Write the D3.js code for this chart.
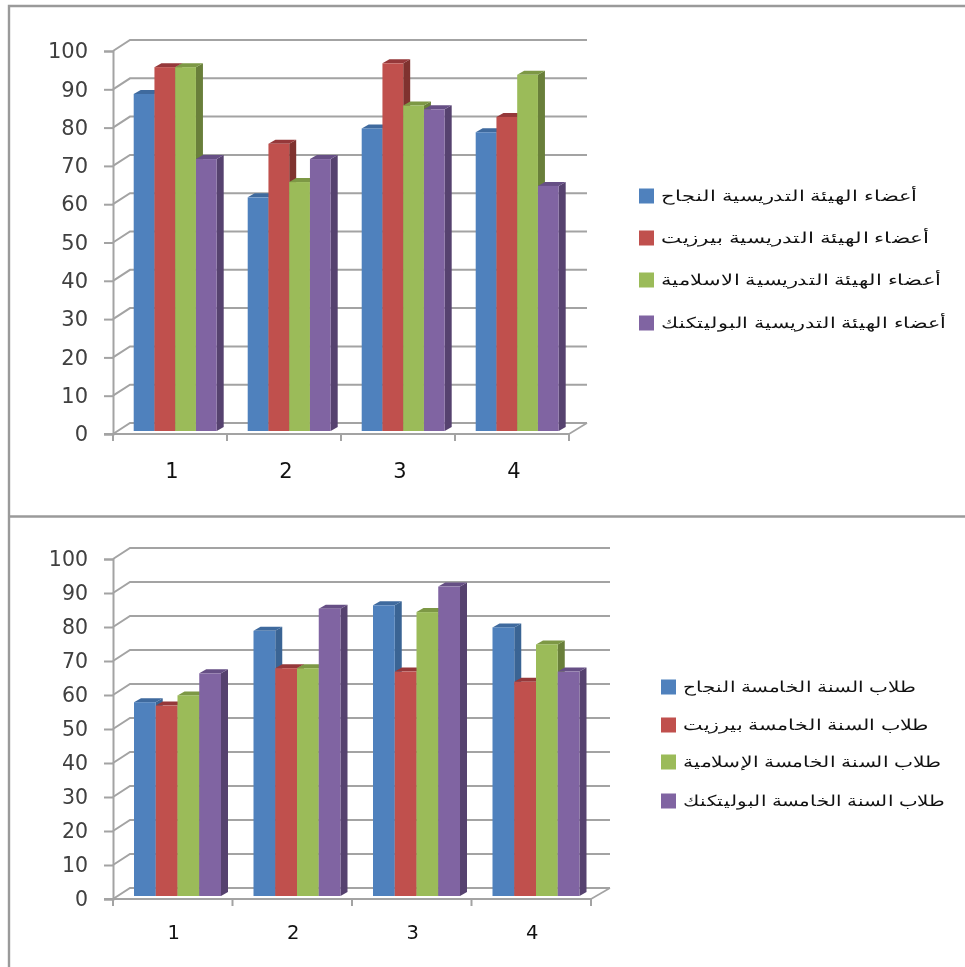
<!DOCTYPE html>
<html lang="ar"><head><meta charset="utf-8">
<script src="https://cdnjs.cloudflare.com/ajax/libs/d3/7.8.5/d3.min.js"></script>
<style>html,body{margin:0;padding:0;background:#fff;overflow:hidden}svg{display:block;filter:blur(0.7px)}</style>
</head><body><svg id="c" width="965" height="967"></svg>
<script>
const categories = ["1","2","3","4"];
const yTicks = [0,10,20,30,40,50,60,70,80,90,100];
const colors = ["#4f81bd","#c0504d","#9bbb59","#8064a2"];
const sideColors = ["#3a6494","#7f322f","#697f3a","#56426f"];
const topColors = ["#3f6a9e","#95383a","#7d9845","#664f85"];

const staffNames = ["أعضاء الهيئة التدريسية النجاح","أعضاء الهيئة التدريسية بيرزيت","أعضاء الهيئة التدريسية الاسلامية","أعضاء الهيئة التدريسية البوليتكنك"];
const staffNajah = [88,61,79,78];
const staffBirzeit = [95,75,96,82];
const staffIslamic = [95,65,85,93];
const staffPoly = [71,71,84,64];

const studentNames = ["طلاب السنة الخامسة النجاح","طلاب السنة الخامسة بيرزيت","طلاب السنة الخامسة الإسلامية","طلاب السنة الخامسة البوليتكنك"];
const studentNajah = [57,78,85.5,79];
const studentBirzeit = [56,67,66,63];
const studentIslamic = [59,67,83.5,74];
const studentPoly = [65.5,84.5,91,66];

const svg = d3.select("#c");
const frameColor = "#9a9a9a", gridColor = "#a3a3a3";
svg.append("path").attr("d","M9,967V6H965M9,516.5H965").attr("fill","none").attr("stroke",frameColor).attr("stroke-width",2.4);

function chart(o){
  const g = svg.append("g");
  const y = d3.scaleLinear().domain([0,100]).range([o.y0,o.y100]);
  const yBar = d3.scaleLinear().domain([0,100]).range([o.y0-3,o.y100-3]);
  const x0 = d3.scaleBand().domain(categories).range([o.x0,o.x1]);
  const x1 = d3.scaleBand().domain(d3.range(4)).range(o.inner);
  const dx=17, dy=o.backDy, bx=7, by=4;
  yTicks.forEach(t=>{
    g.append("path").attr("d",`M${o.x0},${y(t)}L${o.x0+dx},${y(t)-dy}H${o.backEnd}`)
      .attr("fill","none").attr("stroke",gridColor).attr("stroke-width",2);
  });
  g.append("path").attr("d",`M${o.x1},${o.y0}L${o.backEnd},${o.y0-dy}`).attr("fill","none").attr("stroke",gridColor).attr("stroke-width",1.6);
  const ax = d3.axisLeft(y).tickValues(yTicks).tickSize(9).tickPadding(16);
  const ay = g.append("g").attr("transform",`translate(${o.x0},0)`).call(ax);
  ay.selectAll("text").attr("font-family","DejaVu Sans").attr("font-size",o.tickFont).attr("fill","#404040");
  ay.selectAll("line,path").attr("stroke",gridColor).attr("stroke-width",2);
  const ticks = categories.map(c=>x0(c)).concat([o.x1]);
  g.append("line").attr("x1",o.x0-9).attr("x2",o.x1).attr("y1",o.y0).attr("y2",o.y0).attr("stroke",gridColor).attr("stroke-width",2);
  ticks.forEach(t=>g.append("line").attr("x1",t).attr("x2",t).attr("y1",o.y0).attr("y2",o.y0+7).attr("stroke",gridColor).attr("stroke-width",2));
  g.selectAll(".cat").data(categories).join("text").attr("class","cat")
    .attr("x",c=>x0(c)+x0.bandwidth()/2+o.catShift).attr("y",o.catY).attr("text-anchor","middle")
    .attr("font-family","DejaVu Sans").attr("font-size",o.catFont).attr("fill","#111").text(c=>c);
  categories.forEach((c,ci)=>{
    o.series.forEach((vals,si)=>{
      const xl=x0(c)+x1(si), w=x1.bandwidth(), t=yBar(vals[ci]), b=yBar(0);
      const bar=g.append("g");
      bar.append("path").attr("d",`M${xl+w},${t}L${xl+w+bx},${t-by}V${b-by}L${xl+w},${b}Z`).attr("fill",sideColors[si]);
      bar.append("path").attr("d",`M${xl},${t}L${xl+bx},${t-by}H${xl+w+bx}L${xl+w},${t}Z`).attr("fill",topColors[si]);
      bar.append("rect").attr("x",xl).attr("y",t).attr("width",w).attr("height",b-t).attr("fill",colors[si]);
    });
  });
  o.names.forEach((n,i)=>{
    const cy=o.legendY[i];
    g.append("rect").attr("x",o.swatchX).attr("y",cy-7.5).attr("width",15).attr("height",15).attr("fill",colors[i]);
    g.append("text").attr("x",o.legendRight[i]).attr("y",cy+5).attr("text-anchor","end")
      .attr("font-family","Liberation Sans").attr("font-size",o.legendFont).attr("fill","#111")
      .attr("textLength",o.legendRight[i]-o.textStart).attr("lengthAdjust","spacingAndGlyphs").text(n);
  });
}
chart({series:[staffNajah,staffBirzeit,staffIslamic,staffPoly],names:staffNames,
  x0:113,x1:569,y0:434,y100:51,backDy:11,backEnd:587,inner:[20.7,103.7],tickFont:21,catFont:21,catY:478,catShift:2,
  swatchX:639,legendY:[196,238,280,323],legendRight:[917,929,941,946],textStart:661,legendFont:15});
chart({series:[studentNajah,studentBirzeit,studentIslamic,studentPoly],names:studentNames,
  x0:113,x1:591,y0:899,y100:559,backDy:11,backEnd:610,inner:[21,108],tickFont:20.5,catFont:19.5,catY:939,catShift:1,
  swatchX:661,legendY:[687,725,762,801],legendRight:[916,929,941,945],textStart:683,legendFont:15});
</script></body></html>
